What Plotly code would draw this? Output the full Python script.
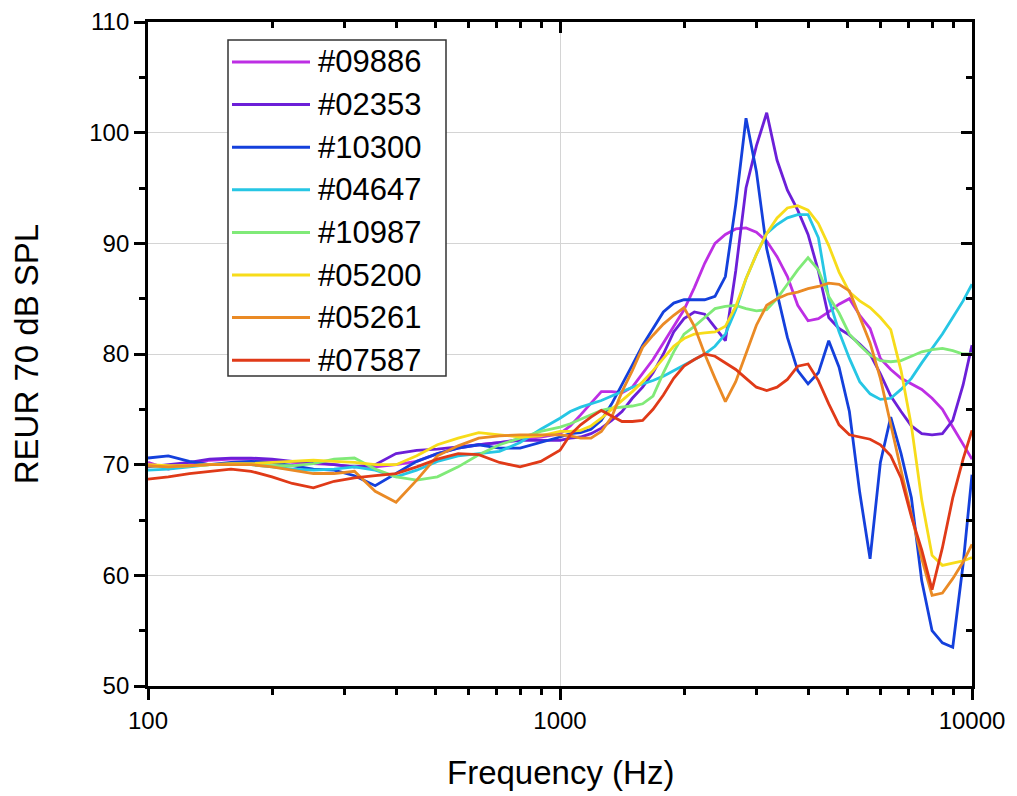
import plotly.graph_objects as go

# frequency grid (Hz): 1/6 octave below 1 kHz, 1/12 octave above
freq = [100, 112, 126, 141, 159, 178, 200, 224, 252, 283, 317, 356, 400, 449, 504, 566, 635, 713, 800, 898,
        1000, 1059, 1122, 1189, 1260, 1335, 1414, 1498, 1587, 1682, 1782, 1888, 2000, 2119, 2245, 2378,
        2520, 2670, 2828, 2997, 3175, 3364, 3564, 3776, 4000, 4238, 4490, 4757, 5040, 5339, 5657, 5993,
        6350, 6727, 7127, 7551, 8000, 8476, 8980, 9514, 10000]

s09886 = [70.2, 69.6, 70.0, 70.4, 70.5, 70.5, 70.4, 70.2, 70.1, 70.0, 69.8, 69.8, 70.0, 70.3, 71.0, 71.5, 71.8, 72.0, 72.3, 72.5,
          72.8, 73.5, 74.5, 75.6, 76.6, 76.6, 76.5, 77.0, 78.2, 79.5, 81.0, 82.5, 84.0, 86.0, 88.2, 90.0, 90.8, 91.3, 91.4, 91.0,
          90.2, 88.8, 87.0, 84.4, 83.0, 83.2, 83.8, 84.5, 85.0, 83.5, 82.3, 79.6, 78.6, 77.8, 77.3, 76.8, 76.0, 75.0, 73.4, 71.8, 70.5]
s02353 = [69.8, 70.0, 70.2, 70.5, 70.6, 70.6, 70.5, 70.3, 70.2, 70.0, 69.8, 70.0, 71.0, 71.3, 71.4, 71.6, 71.8, 72.0, 72.2, 72.2,
          72.2, 72.4, 72.5, 72.8, 73.3, 74.0, 74.8, 76.0, 77.0, 78.3, 80.0, 82.0, 83.2, 83.8, 83.6, 82.4, 81.2, 87.5, 95.0, 98.8,
          101.8, 97.5, 94.8, 93.0, 90.8, 87.5, 83.3, 82.3, 81.7, 80.9, 80.0, 78.2, 76.2, 74.8, 73.5, 72.8, 72.7, 72.8, 74.0, 77.2, 80.8]
s10300 = [70.6, 70.8, 70.3, 70.0, 70.2, 70.3, 70.2, 69.9, 69.6, 69.5, 69.0, 68.1, 69.2, 70.3, 71.0, 71.5, 71.8, 71.5, 71.5, 72.0,
          72.5, 72.8, 72.9, 73.2, 74.0, 75.5, 77.2, 79.0, 80.8, 82.3, 83.8, 84.6, 84.9, 84.9, 84.9, 85.2, 87.0, 93.5, 101.3, 96.5,
          89.5, 85.5, 81.5, 78.5, 77.3, 78.3, 81.2, 78.8, 74.8, 67.5, 61.5, 70.2, 74.3, 71.0, 67.0, 59.5, 55.0, 53.9, 53.5, 61.0, 69.1]
s04647 = [69.5, 69.6, 69.8, 70.0, 70.0, 70.0, 69.8, 69.6, 69.5, 69.6, 69.8, 69.5, 68.9, 69.5, 70.3, 70.8, 71.0, 71.2, 72.0, 73.2,
          74.2, 74.8, 75.2, 75.5, 75.8, 76.2, 76.6, 77.0, 77.3, 77.6, 78.0, 78.5, 79.0, 79.5, 80.0, 80.7, 81.8, 84.0, 86.8, 89.0,
          90.9, 91.7, 92.3, 92.6, 92.6, 90.5, 85.0, 82.0, 79.6, 77.5, 76.4, 75.9, 76.0, 76.8, 77.8, 79.2, 80.5, 81.8, 83.3, 84.8, 86.3]
s10987 = [69.9, 69.8, 69.9, 70.0, 70.0, 70.0, 69.9, 69.9, 70.1, 70.5, 70.6, 69.6, 68.9, 68.6, 68.9, 69.8, 70.9, 71.8, 72.4, 73.0,
          73.4, 73.7, 74.1, 74.5, 74.9, 75.1, 75.2, 75.3, 75.5, 76.2, 78.3, 80.2, 81.8, 82.5, 83.3, 84.1, 84.3, 84.4, 84.1, 83.9,
          84.0, 85.0, 86.3, 87.6, 88.7, 87.6, 85.2, 83.7, 81.8, 80.8, 79.9, 79.4, 79.3, 79.4, 79.8, 80.2, 80.4, 80.5, 80.3, 80.0, 80.0]
s05200 = [70.0, 69.9, 69.9, 70.0, 70.1, 70.1, 70.2, 70.3, 70.4, 70.3, 70.2, 70.0, 70.0, 70.8, 71.8, 72.4, 72.9, 72.7, 72.5, 72.6,
          73.0, 73.0, 73.1, 73.5, 74.2, 75.0, 75.8, 76.6, 77.5, 78.5, 79.6, 80.7, 81.4, 81.8, 81.9, 82.0, 82.5, 84.3, 86.8, 89.0,
          90.9, 92.3, 93.2, 93.4, 93.0, 91.8, 89.8, 87.4, 85.6, 84.8, 84.2, 83.3, 82.2, 78.5, 73.5, 66.8, 61.8, 60.9, 61.1, 61.3, 61.6]
s05261 = [69.9, 69.8, 69.9, 70.0, 70.0, 70.0, 69.8, 69.5, 69.2, 69.2, 69.4, 67.6, 66.6, 68.6, 70.8, 71.7, 72.4, 72.6, 72.7, 72.7,
          72.7, 72.6, 72.4, 72.4, 73.0, 74.3, 76.6, 78.5, 80.6, 81.7, 82.7, 83.5, 84.2, 82.5, 80.0, 77.8, 75.7, 77.5, 80.0, 82.6,
          84.4, 85.0, 85.4, 85.6, 85.9, 86.1, 86.4, 86.3, 85.7, 83.3, 81.0, 77.8, 73.5, 69.5, 65.5, 61.5, 58.2, 58.4, 59.7, 61.2, 62.8]
s07587 = [68.7, 68.9, 69.2, 69.4, 69.6, 69.4, 68.9, 68.3, 67.9, 68.5, 68.8, 69.0, 69.2, 69.8, 70.5, 71.0, 70.9, 70.2, 69.8, 70.3,
          71.3, 72.7, 73.6, 74.3, 74.9, 74.4, 73.9, 73.9, 74.0, 75.0, 76.3, 77.8, 78.9, 79.5, 80.0, 79.8, 79.2, 78.6, 77.8, 77.0,
          76.7, 77.0, 77.7, 78.9, 79.1, 77.6, 75.5, 73.6, 72.7, 72.5, 72.3, 71.8, 70.8, 68.8, 65.3, 62.3, 58.7, 62.5, 67.0, 70.5, 73.1]

names = ['#09886', '#02353', '#10300', '#04647', '#10987', '#05200', '#05261', '#07587']
series = [s09886, s02353, s10300, s04647, s10987, s05200, s05261, s07587]
colors = ['#bd2ee4', '#6c1fd8', '#1440dc', '#26c6e4', '#80ea78', '#f7dc1a', '#ea8a25', '#e03a18']

FONT = 'Liberation Sans, Arial, sans-serif'

# page offset of the figure div (body margin) and wanted plot box on the page
DX, DY = 8, 8
L, R, T, B = 148, 972, 22, 686
W, H = 1000, 790

def px(x):
    return (x - L) / (R - L)
def py(y):
    return (B - y) / (B - T)

fig = go.Figure()

for name, vals, col in zip(names, series, colors):
    fig.add_trace(go.Scatter(x=freq, y=vals, mode='lines', name=name,
                             line=dict(color=col, width=2.8), showlegend=False))

# invisible trace so the mirrored (top/right) axes get drawn
fig.add_trace(go.Scatter(x=[100], y=[50], xaxis='x2', yaxis='y2', mode='markers',
                         marker_opacity=0, showlegend=False, hoverinfo='skip'))

minor_x = [200, 300, 400, 500, 600, 700, 800, 900, 2000, 3000, 4000, 5000, 6000, 7000, 8000, 9000]

axis_common = dict(showline=True, linecolor='black', linewidth=2.8, tickcolor='black',
                   tickwidth=2.5, ticklen=11, zeroline=False)

fig.update_layout(
    width=W, height=H,
    margin=dict(l=L - DX, r=W - (R - DX), t=T - DY, b=H - (B - DY), autoexpand=False),
    plot_bgcolor='white', paper_bgcolor='white',
    font=dict(family=FONT, color='black'),
    xaxis=dict(type='log', range=[2, 4], tickvals=[100, 1000, 10000], ticktext=['100', '1000', '10000'],
               ticks='outside', showgrid=True, gridcolor='#d4d4d4', gridwidth=1,
               tickfont=dict(size=24), ticklabeloverflow='allow',
               minor=dict(tickvals=minor_x, ticks='outside', ticklen=6, tickwidth=2.5,
                          tickcolor='black', showgrid=False),
               **axis_common),
    yaxis=dict(range=[50, 110], tickvals=[50, 60, 70, 80, 90, 100, 110],
               ticks='outside', showgrid=True, gridcolor='#d4d4d4', gridwidth=1,
               tickfont=dict(size=24), ticklabeloverflow='allow',
               minor=dict(dtick=5, ticks='outside', ticklen=6, tickwidth=2.5,
                          tickcolor='black', showgrid=False),
               title=dict(text='REUR 70 dB SPL', font=dict(size=33), standoff=46),
               **axis_common),
    xaxis2=dict(type='log', range=[2, 4], overlaying='x', side='top', anchor='y',
                tickvals=[100, 1000, 10000], ticks='inside', showticklabels=False, showgrid=False,
                minor=dict(tickvals=minor_x, ticks='inside', ticklen=6, tickwidth=2.5,
                           tickcolor='black', showgrid=False),
                **axis_common),
    yaxis2=dict(range=[50, 110], overlaying='y', side='right', anchor='x',
                tickvals=[50, 60, 70, 80, 90, 100, 110], ticks='inside', showticklabels=False,
                showgrid=False,
                minor=dict(dtick=5, ticks='inside', ticklen=6, tickwidth=2.5,
                           tickcolor='black', showgrid=False),
                **axis_common),
    showlegend=False,
)

# legend box drawn by hand to get the long sample lines
shapes = [dict(type='rect', xref='paper', yref='paper',
               x0=px(228), x1=px(446), y0=py(40), y1=py(376),
               line=dict(color='#333333', width=1.5), fillcolor='white', layer='above')]
annotations = []
for i, (name, col) in enumerate(zip(names, colors)):
    yy = 62 + 42.6 * i
    shapes.append(dict(type='line', xref='paper', yref='paper',
                       x0=px(232), x1=px(310), y0=py(yy), y1=py(yy),
                       line=dict(color=col, width=3), layer='above'))
    annotations.append(dict(text=name, xref='paper', yref='paper', x=px(316), y=py(yy),
                            xanchor='left', yanchor='middle', showarrow=False,
                            font=dict(size=31, color='black', family=FONT)))

# x axis title placed as an annotation for exact placement
annotations.append(dict(text='Frequency (Hz)', xref='paper', yref='paper', x=0.5, y=py(772),
                        xanchor='center', yanchor='middle', showarrow=False,
                        font=dict(size=33, color='black', family=FONT)))

fig.update_layout(shapes=shapes, annotations=annotations)

fig.write_html("out.html")
